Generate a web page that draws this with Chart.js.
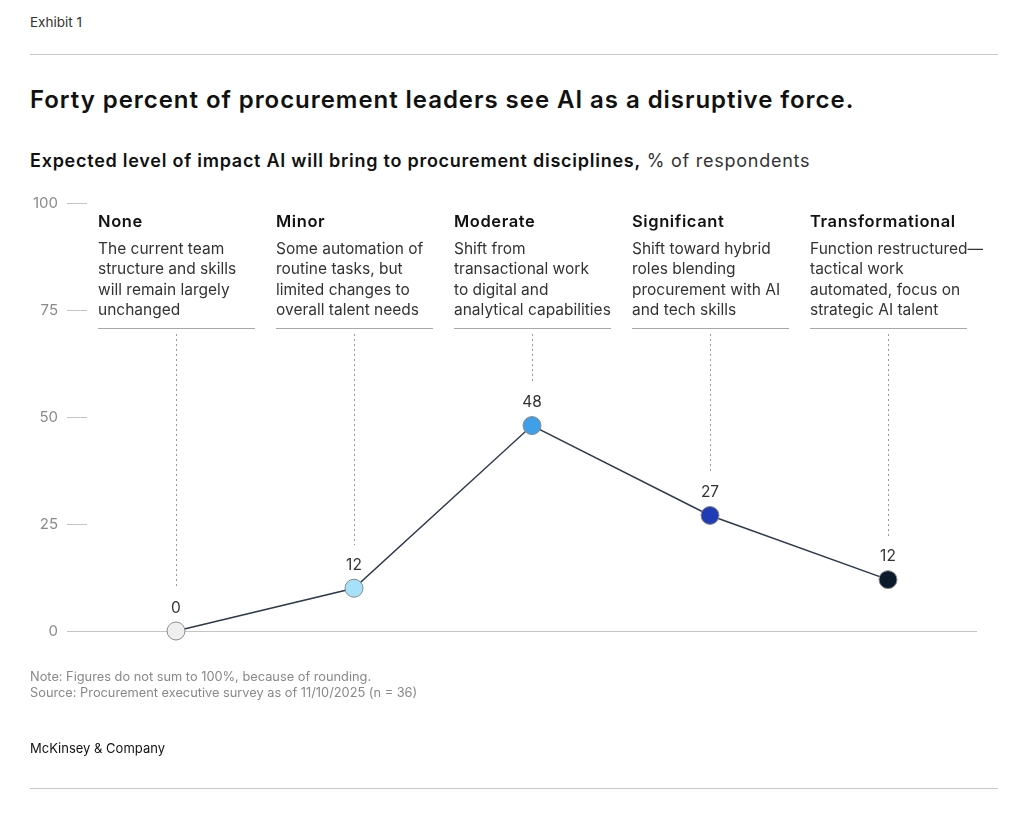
<!DOCTYPE html>
<html>
<head>
<meta charset="utf-8">
<script src="https://cdn.jsdelivr.net/npm/chart.js@4.4.1/dist/chart.umd.min.js"></script>
<style>
  html, body { margin: 0; padding: 0; background: #fff; }
  body { width: 1024px; height: 819px; position: relative; overflow: hidden; font-family: Inter, "Liberation Sans", Arial, sans-serif; color: #111; }
  .rule { position: absolute; left: 30px; width: 968px; height: 1px; background: #c8c8c8; }
  .exhibit { position: absolute; left: 30px; top: 14px; font-size: 13.5px; color: #333; }
  .title { position: absolute; left: 30px; top: 85px; font-size: 24px; font-weight: 600; color: #111; letter-spacing: 0.95px; white-space: nowrap; }
  .subtitle { position: absolute; left: 30px; top: 150px; font-size: 18px; color: #111; letter-spacing: 0.75px; white-space: nowrap; }
  .subtitle b { font-weight: 600; }
  .subtitle span { color: #333; }
  .note { position: absolute; left: 30px; top: 669px; font-size: 12.8px; color: #888; line-height: 16px; }
  .brand { position: absolute; left: 30px; top: 740px; font-size: 13px; color: #111; }
  #wrap { position: absolute; left: 0; top: 0; width: 1024px; height: 819px; }
</style>
</head>
<body>
<div class="exhibit">Exhibit 1</div>
<div class="rule" style="top:54px"></div>
<div class="title">Forty percent of procurement leaders see AI as a disruptive force.</div>
<div class="subtitle"><b>Expected level of impact AI will bring to procurement disciplines,</b> <span>% of respondents</span></div>
<div id="wrap"><canvas id="chart" width="1024" height="819"></canvas></div>
<div class="note">Note: Figures do not sum to 100%, because of rounding.<br>Source: Procurement executive survey as of 11/10/2025 (n = 36)</div>
<div class="brand">McKinsey &amp; Company</div>
<div class="rule" style="top:788px"></div>

<script>
document.addEventListener('DOMContentLoaded', () => {
    const categories = ['None', 'Minor', 'Moderate', 'Significant', 'Transformational'];
    const descriptions = [
        ['The current team', 'structure and skills', 'will remain largely', 'unchanged'],
        ['Some automation of', 'routine tasks, but', 'limited changes to', 'overall talent needs'],
        ['Shift from', 'transactional work', 'to digital and', 'analytical capabilities'],
        ['Shift toward hybrid', 'roles blending', 'procurement with AI', 'and tech skills'],
        ['Function restructured\u2014', 'tactical work', 'automated, focus on', 'strategic AI talent'],
    ];
    // plotted positions, printed labels as shown
    const shares = [0, 10, 48, 27, 12];
    const shareLabels = ['0', '12', '48', '27', '12'];
    const pointColors = ['#efefef', '#a6e1fa', '#3f9fe8', '#1f3cb5', '#0b1a2c'];
    const yTicks = [0, 25, 50, 75, 100];

    const FONT = 'Inter, "Liberation Sans", Arial, sans-serif';

    // category headers, underlines, dotted leaders and value labels
    const annotations = {
        id: 'annotations',
        afterDatasetsDraw(chart) {
            const { ctx } = chart;
            const x = chart.scales.x;
            const meta = chart.getDatasetMeta(0);
            ctx.save();
            categories.forEach((name, i) => {
                const cx = x.getPixelForValue(i);
                const left = cx - 78;
                const py = meta.data[i].y;

                ctx.textAlign = 'left';
                ctx.textBaseline = 'middle';
                ctx.fillStyle = '#111';
                ctx.font = '600 16.5px ' + FONT;
                ctx.letterSpacing = '0.6px';
                ctx.fillText(name, left, 222);
                ctx.letterSpacing = '0px';

                ctx.fillStyle = '#333';
                ctx.font = '15.5px ' + FONT;
                descriptions[i].forEach((line, j) => {
                    ctx.fillText(line, left, 249 + j * 20.5);
                });

                ctx.strokeStyle = '#a8a8a8';
                ctx.lineWidth = 1;
                ctx.beginPath();
                ctx.moveTo(left, 328.5);
                ctx.lineTo(left + 157, 328.5);
                ctx.stroke();

                ctx.strokeStyle = '#9a9a9a';
                ctx.setLineDash([2, 3]);
                ctx.beginPath();
                ctx.moveTo(Math.round(cx) + 0.5, 334);
                ctx.lineTo(Math.round(cx) + 0.5, py - 43);
                ctx.stroke();
                ctx.setLineDash([]);

                ctx.textAlign = 'center';
                ctx.fillStyle = '#333';
                ctx.font = '15.5px ' + FONT;
                ctx.fillText(shareLabels[i], cx, py - 23);
            });
            ctx.restore();
        }
    };

    new Chart(document.getElementById('chart').getContext('2d'), {
        type: 'line',
        data: {
            labels: categories,
            datasets: [{
                data: shares,
                borderColor: '#2c3a4b',
                borderWidth: 1.5,
                tension: 0,
                pointRadius: 9,
                pointHoverRadius: 9,
                pointBackgroundColor: pointColors,
                pointBorderColor: '#8a8a8a',
                pointBorderWidth: 1,
                clip: false,
            }]
        },
        options: {
            responsive: false,
            animation: false,
            devicePixelRatio: 1,
            layout: { padding: { top: 203, bottom: 180, left: 0, right: 47 } },
            plugins: { legend: { display: false }, tooltip: { enabled: false } },
            scales: {
                x: {
                    offset: true,
                    grid: { display: false },
                    border: { display: false },
                    ticks: { display: false },
                },
                y: {
                    min: 0,
                    max: 100,
                    afterBuildTicks: (axis) => { axis.ticks = yTicks.map(v => ({ value: v })); },
                    afterFit: (axis) => { axis.width = 87; },
                    border: { display: false },
                    grid: {
                        tickLength: 20,
                        color: (c) => (c.tick && c.tick.value === 0 ? '#c4c4c4' : 'rgba(0,0,0,0)'),
                        tickColor: '#c4c4c4',
                        lineWidth: 1,
                    },
                    ticks: {
                        padding: 9,
                        color: '#8a8a8a',
                        font: { family: FONT, size: 15 },
                    },
                },
            },
        },
        plugins: [annotations],
    });
});
</script>
</body>
</html>
